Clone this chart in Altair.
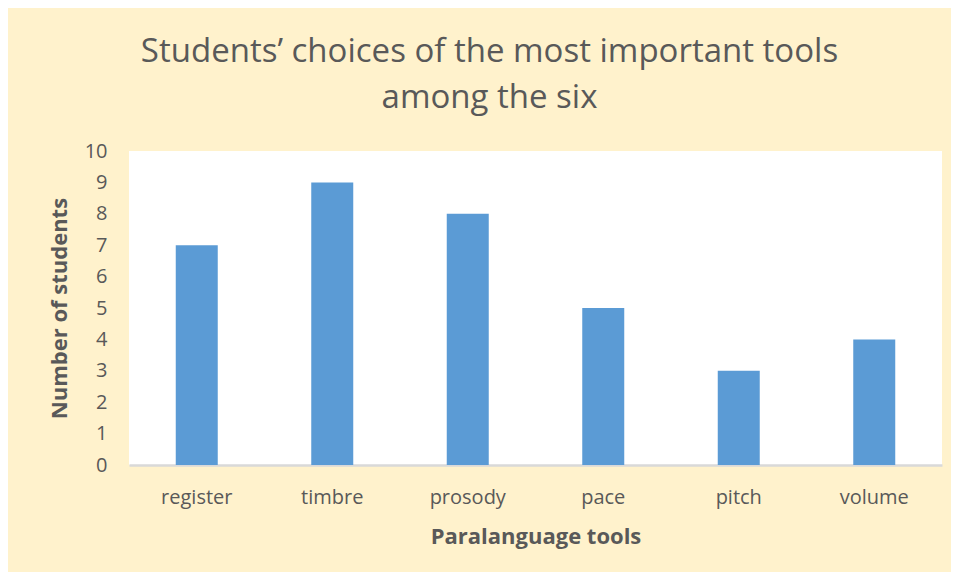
import altair as alt
import pandas as pd

categories = ["register", "timbre", "prosody", "pace", "pitch", "volume"]
values = [7, 9, 8, 5, 3, 4]
y_ticks = [0, 1, 2, 3, 4, 5, 6, 7, 8, 9, 10]

df = pd.DataFrame({"tool": categories, "students": values})

FONT = "Open Sans"
TXT = "#595959"

chart = alt.Chart(df).mark_bar(color="#5B9BD5", size=42).encode(
    x=alt.X("tool:N", sort=categories, title="Paralanguage tools",
            scale=alt.Scale(paddingInner=0, paddingOuter=0),
            axis=alt.Axis(labelAngle=0, labelFontSize=20, labelColor=TXT, labelFont=FONT,
                          labelPadding=22, ticks=False, domainColor="#D9D9D9", domainWidth=2.5,
                          titleFont=FONT, titleFontSize=22, titleColor=TXT, titleFontWeight="bold",
                          titlePadding=19)),
    y=alt.Y("students:Q", title="Number of students",
            scale=alt.Scale(domain=[0, 10], nice=False),
            axis=alt.Axis(values=y_ticks, grid=False, ticks=False, domain=False,
                          labelFontSize=20, labelColor=TXT, labelFont=FONT, labelPadding=22,
                          titleFont=FONT, titleFontSize=22, titleColor=TXT, titleFontWeight="bold",
                          titlePadding=13)),
).properties(
    width=813,
    height=314,
    background="#FFF2CC",
    padding={"left": 121, "top": 143, "right": 9, "bottom": 107},
    autosize=alt.AutoSizeParams(type="none"),
    title=alt.TitleParams(
        text=["Students\u2019 choices of the most important tools", "among the six"],
        anchor="middle", dx=-46, fontSize=33, font=FONT, fontWeight="normal",
        color=TXT, lineHeight=46, offset=26,
    ),
).configure_view(fill="white", stroke=None)

chart.save("out.html", embed_options={"renderer": "svg", "actions": False})
